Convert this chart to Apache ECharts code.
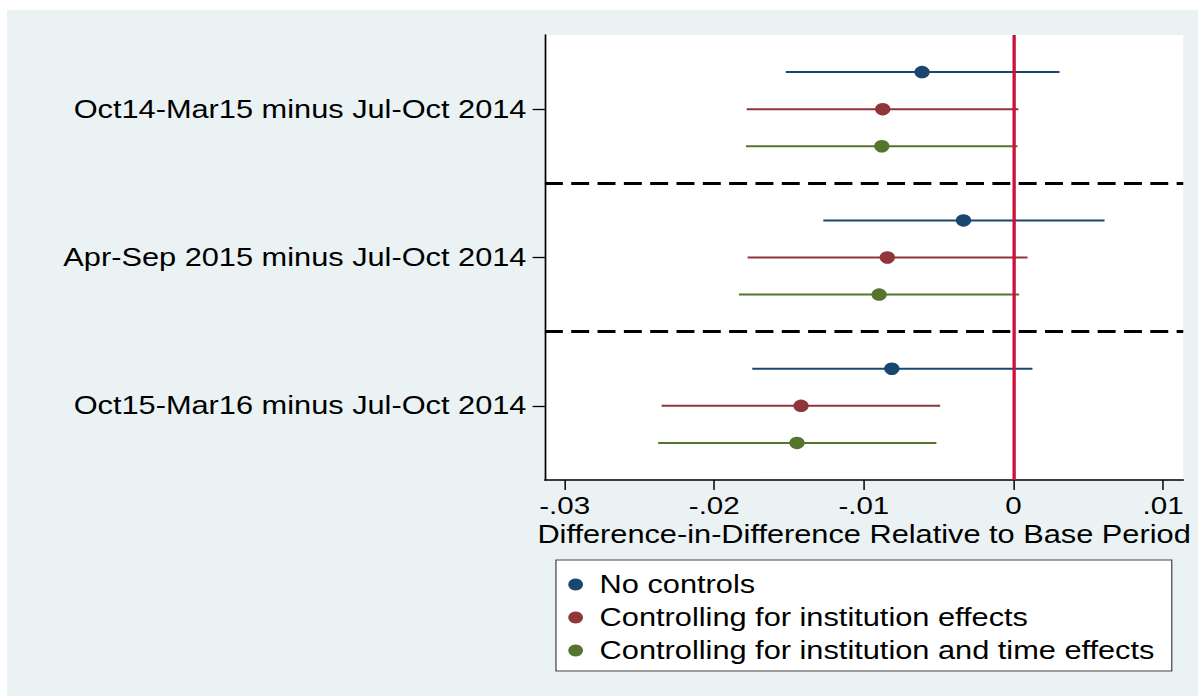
<!DOCTYPE html>
<html>
<head>
<meta charset="utf-8">
<script src="https://cdn.jsdelivr.net/npm/echarts@6/dist/echarts.min.js"></script>
<style>
  html, body { margin: 0; padding: 0; background: #ffffff; overflow: hidden; width: 1198px; height: 696px; }
  #wrap { position: absolute; left: 0; top: 0; width: 1198px; height: 696px; overflow: hidden; }
  /* the reference picture is horizontally stretched; reproduce that stretch */
  #chart { position: absolute; left: 0; top: 0; width: 974px; height: 696px; transform: scaleX(1.23); transform-origin: 0 0; }
</style>
</head>
<body>
<div id="wrap"><div id="chart"></div></div>
<script>
// ---------------- data ----------------
const groups = [
  'Oct14-Mar15 minus Jul-Oct 2014',
  'Apr-Sep 2015 minus Jul-Oct 2014',
  'Oct15-Mar16 minus Jul-Oct 2014'
];
const modelNames = [
  'No controls',
  'Controlling for institution effects',
  'Controlling for institution and time effects'
];
// point estimates per group (same order as groups)
const estNoControls   = [-0.00611, -0.00334, -0.00813];
const estInstitution  = [-0.00874, -0.00843, -0.01420];
const estInstTime     = [-0.00880, -0.00898, -0.01447];
// lower confidence bounds
const loNoControls    = [-0.01522, -0.01271, -0.01746];
const loInstitution   = [-0.01783, -0.01777, -0.02352];
const loInstTime      = [-0.01788, -0.01835, -0.02375];
// upper confidence bounds
const hiNoControls    = [0.00308, 0.00609, 0.00127];
const hiInstitution   = [0.00033, 0.00094, -0.00490];
const hiInstTime      = [0.00027, 0.00038, -0.00515];
// x-axis ticks
const xTickValues = [-0.03, -0.02, -0.01, 0, 0.01];
const xTickLabels = ['-.03', '-.02', '-.01', '0', '.01'];

// ---------------- styling ----------------
const colors = ['#1a476f', '#90353b', '#55752f'];
const rowOffsets = [-0.25, 0, 0.25];
const FONT = "'Liberation Sans', Arial, Helvetica, sans-serif";

const est = [estNoControls, estInstitution, estInstTime];
const lo  = [loNoControls, loInstitution, loInstTime];
const hi  = [hiNoControls, hiInstitution, hiInstTime];
const groupPos = groups.map((g, i) => i + 1);

const series = [];
modelNames.forEach((name, m) => {
  const ciData = groups.map((g, i) => [lo[m][i], hi[m][i], groupPos[i] + rowOffsets[m]]);
  series.push({
    type: 'custom',
    name: 'ci_' + m,
    z: 2,
    silent: true,
    data: ciData,
    encode: { x: [0, 1], y: 2 },
    renderItem: function (params, api) {
      const y = api.value(2);
      const p1 = api.coord([api.value(0), y]);
      const p2 = api.coord([api.value(1), y]);
      return {
        type: 'line',
        shape: { x1: p1[0], y1: p1[1], x2: p2[0], y2: p2[1] },
        style: { stroke: colors[m], lineWidth: 2 }
      };
    }
  });
});
modelNames.forEach((name, m) => {
  const s = {
    type: 'scatter',
    name: name,
    z: 5,
    symbol: 'circle',
    symbolSize: 12.5,
    itemStyle: { color: colors[m], opacity: 1 },
    data: groups.map((g, i) => [est[m][i], groupPos[i] + rowOffsets[m]])
  };
  if (m === 0) {
    s.markLine = {
      silent: true,
      symbol: ['none', 'none'],
      label: { show: false },
      animation: false,
      z: 4,
      data: [
        { yAxis: 1.5, lineStyle: { color: '#000000', width: 3, type: [14.6, 6.8] } },
        { yAxis: 2.5, lineStyle: { color: '#000000', width: 3, type: [14.6, 6.8] } },
        { xAxis: 0, lineStyle: { color: '#cf0f3c', width: 2.7, type: 'solid' } }
      ]
    };
  }
  series.push(s);
});

const chart = echarts.init(document.getElementById('chart'), null, { renderer: 'svg' });
chart.setOption({
  animation: false,
  backgroundColor: '#eaf2f3',
  textStyle: { fontFamily: FONT },
  graphic: [
    { type: 'rect', left: 0, top: 0, shape: { width: 974, height: 10 }, style: { fill: '#ffffff' }, silent: true },
    { type: 'rect', left: 0, top: 0, shape: { width: 5.7, height: 696 }, style: { fill: '#ffffff' }, silent: true }
  ],
  grid: {
    left: 443, top: 35, width: 519, height: 445,
    show: true, backgroundColor: '#ffffff', borderWidth: 0
  },
  legend: {
    data: modelNames,
    orient: 'vertical',
    left: 452, top: 560,
    padding: [12, 14, 8, 10],
    itemWidth: 29, itemHeight: 12, itemGap: 8,
    icon: 'circle',
    backgroundColor: '#ffffff',
    borderColor: '#444444', borderWidth: 1,
    selectedMode: false,
    textStyle: { fontSize: 25, lineHeight: 25, color: '#000000', fontFamily: FONT }
  },
  xAxis: {
    type: 'value',
    min: -0.03132, max: 0.01135,
    splitLine: { show: false },
    axisLine: { show: true, onZero: false, lineStyle: { color: '#000000', width: 1.5 } },
    axisTick: { show: true, customValues: xTickValues, length: 10, lineStyle: { color: '#000000', width: 1.2 } },
    axisLabel: {
      customValues: xTickValues,
      formatter: v => { const i = xTickValues.findIndex(t => Math.abs(t - v) < 1e-9); return i >= 0 ? xTickLabels[i] : ''; },
      fontSize: 24, lineHeight: 18, margin: 16.5, color: '#000000', fontFamily: FONT
    },
    name: 'Difference-in-Difference Relative to Base Period',
    nameLocation: 'middle',
    nameGap: 33.5,
    nameTextStyle: { fontSize: 25, lineHeight: 18, color: '#000000', fontFamily: FONT }
  },
  yAxis: {
    type: 'value',
    inverse: true,
    min: 0.5, max: 3.5,
    splitLine: { show: false },
    axisLine: { show: true, onZero: false, lineStyle: { color: '#000000', width: 1.4 } },
    axisTick: { show: true, customValues: groupPos, length: 10, lineStyle: { color: '#000000', width: 1.3 } },
    axisLabel: {
      customValues: groupPos,
      formatter: v => groups[Math.round(v) - 1] || '',
      fontSize: 25, margin: 15, padding: [4, 0, 0, 0], color: '#000000', fontFamily: FONT
    }
  },
  series: series
});
</script>
</body>
</html>
